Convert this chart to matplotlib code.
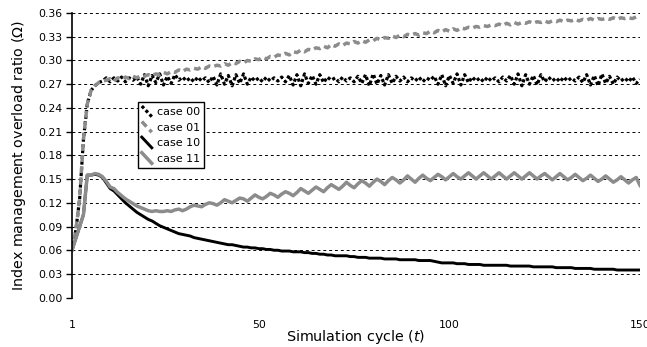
import numpy as np
import matplotlib
matplotlib.use("Agg")
import matplotlib.pyplot as plt
from matplotlib.legend_handler import HandlerLine2D
from matplotlib.lines import Line2D

cycles = np.arange(1, 151)

case_00 = [
    0.060, 0.085, 0.125, 0.200, 0.245, 0.262, 0.268, 0.272, 0.274, 0.278,
    0.273, 0.278, 0.274, 0.279, 0.273, 0.278, 0.275, 0.279, 0.270, 0.282,
    0.268, 0.281, 0.272, 0.283, 0.269, 0.280, 0.271, 0.282, 0.275, 0.279,
    0.274, 0.278, 0.273, 0.279, 0.274, 0.278, 0.272, 0.280, 0.269, 0.283,
    0.270, 0.281, 0.268, 0.282, 0.271, 0.283, 0.270, 0.279, 0.274, 0.278,
    0.273, 0.279, 0.274, 0.278, 0.274, 0.279, 0.273, 0.281, 0.269, 0.282,
    0.268, 0.283, 0.271, 0.281, 0.270, 0.282, 0.272, 0.279, 0.275, 0.278,
    0.273, 0.279, 0.274, 0.278, 0.273, 0.280, 0.271, 0.282, 0.268, 0.283,
    0.270, 0.281, 0.269, 0.282, 0.271, 0.280, 0.274, 0.279, 0.273, 0.278,
    0.274, 0.279, 0.273, 0.278, 0.275, 0.280, 0.270, 0.282, 0.268, 0.281,
    0.271, 0.283, 0.269, 0.282, 0.272, 0.279, 0.274, 0.278, 0.273, 0.279,
    0.274, 0.278, 0.273, 0.279, 0.274, 0.281, 0.270, 0.283, 0.268, 0.282,
    0.270, 0.281, 0.269, 0.282, 0.273, 0.279, 0.274, 0.278, 0.273, 0.279,
    0.274, 0.278, 0.274, 0.279, 0.272, 0.282, 0.269, 0.281, 0.268, 0.283,
    0.271, 0.280, 0.270, 0.279, 0.274, 0.278, 0.273, 0.279, 0.271, 0.276,
]

case_01 = [
    0.060, 0.085, 0.125, 0.200, 0.245, 0.262, 0.268, 0.272, 0.274, 0.275,
    0.277, 0.274, 0.278, 0.276, 0.279, 0.277, 0.280, 0.278, 0.281, 0.280,
    0.282, 0.281, 0.283, 0.282, 0.285, 0.283, 0.286, 0.285, 0.288, 0.286,
    0.289, 0.288, 0.290, 0.289, 0.292, 0.290, 0.293, 0.292, 0.294, 0.293,
    0.296, 0.294, 0.297, 0.296, 0.299, 0.297, 0.300, 0.299, 0.302, 0.301,
    0.304, 0.302, 0.305, 0.304, 0.307, 0.306, 0.309, 0.307, 0.311, 0.310,
    0.313, 0.311, 0.314, 0.313, 0.316, 0.315, 0.318, 0.316, 0.320, 0.318,
    0.321, 0.319, 0.322, 0.321, 0.324, 0.322, 0.325, 0.323, 0.326, 0.325,
    0.328, 0.326, 0.329, 0.328, 0.331, 0.329, 0.332, 0.330, 0.333, 0.332,
    0.334, 0.332, 0.335, 0.334, 0.337, 0.335, 0.338, 0.336, 0.339, 0.337,
    0.340, 0.338, 0.341, 0.340, 0.342, 0.341, 0.343, 0.342, 0.344, 0.343,
    0.345, 0.344, 0.346, 0.344, 0.347, 0.345, 0.348, 0.346, 0.348, 0.347,
    0.349, 0.347, 0.349, 0.348, 0.350, 0.348, 0.350, 0.349, 0.351, 0.349,
    0.351, 0.350, 0.352, 0.350, 0.352, 0.351, 0.353, 0.351, 0.353, 0.352,
    0.353, 0.352, 0.354, 0.352, 0.354, 0.353, 0.354, 0.353, 0.355, 0.354,
]

case_10 = [
    0.060, 0.075, 0.090, 0.105, 0.155, 0.155, 0.156, 0.155, 0.152, 0.145,
    0.138, 0.135, 0.130, 0.125, 0.120, 0.116, 0.112, 0.108, 0.105, 0.102,
    0.099, 0.097, 0.094, 0.091, 0.089, 0.087, 0.085, 0.083, 0.081, 0.080,
    0.079, 0.078, 0.076, 0.075, 0.074, 0.073, 0.072, 0.071, 0.070, 0.069,
    0.068, 0.067, 0.067, 0.066, 0.065, 0.064, 0.064, 0.063, 0.063, 0.062,
    0.062, 0.061, 0.061, 0.060, 0.060, 0.059, 0.059, 0.059, 0.058, 0.058,
    0.058, 0.057, 0.057, 0.056, 0.056, 0.055, 0.055, 0.054, 0.054, 0.053,
    0.053, 0.053, 0.053, 0.052, 0.052, 0.051, 0.051, 0.051, 0.050, 0.050,
    0.050, 0.050, 0.049, 0.049, 0.049, 0.049, 0.048, 0.048, 0.048, 0.048,
    0.048, 0.047, 0.047, 0.047, 0.047, 0.046, 0.045, 0.044, 0.044, 0.044,
    0.044, 0.043, 0.043, 0.043, 0.042, 0.042, 0.042, 0.042, 0.041, 0.041,
    0.041, 0.041, 0.041, 0.041, 0.041, 0.040, 0.040, 0.040, 0.040, 0.040,
    0.040, 0.039, 0.039, 0.039, 0.039, 0.039, 0.039, 0.038, 0.038, 0.038,
    0.038, 0.038, 0.037, 0.037, 0.037, 0.037, 0.037, 0.036, 0.036, 0.036,
    0.036, 0.036, 0.036, 0.035, 0.035, 0.035, 0.035, 0.035, 0.035, 0.035,
]

case_11 = [
    0.060, 0.075, 0.090, 0.105, 0.155, 0.155, 0.157, 0.156, 0.153, 0.147,
    0.140, 0.138, 0.133, 0.129, 0.125, 0.122, 0.119, 0.116, 0.114, 0.112,
    0.110, 0.109, 0.110, 0.109, 0.109, 0.110, 0.109, 0.111, 0.112, 0.110,
    0.112, 0.115, 0.117, 0.116, 0.115, 0.118, 0.120, 0.119, 0.117, 0.120,
    0.124, 0.122, 0.120, 0.123, 0.126, 0.125, 0.122, 0.126, 0.130, 0.127,
    0.125, 0.128, 0.132, 0.130, 0.127, 0.131, 0.134, 0.132, 0.129, 0.133,
    0.138, 0.135, 0.132, 0.136, 0.140, 0.137, 0.134, 0.139, 0.143, 0.140,
    0.137, 0.141, 0.146, 0.142, 0.139, 0.144, 0.148, 0.145, 0.141, 0.146,
    0.150, 0.147, 0.143, 0.148, 0.152, 0.149, 0.145, 0.149, 0.154, 0.150,
    0.146, 0.151, 0.155, 0.151, 0.148, 0.152, 0.156, 0.153, 0.149, 0.153,
    0.157, 0.153, 0.150, 0.154, 0.158, 0.154, 0.150, 0.154, 0.158, 0.154,
    0.150, 0.154, 0.158, 0.154, 0.150, 0.154, 0.158, 0.154, 0.150, 0.154,
    0.158, 0.154, 0.150, 0.154, 0.157, 0.153, 0.149, 0.153, 0.157, 0.153,
    0.149, 0.152, 0.156, 0.152, 0.148, 0.151, 0.155, 0.151, 0.147, 0.150,
    0.154, 0.150, 0.146, 0.149, 0.153, 0.149, 0.145, 0.149, 0.152, 0.142,
]

labels = ["case 00", "case 01", "case 10", "case 11"]
y_ticks = np.arange(0, 0.361, 0.03)
x_ticks = [1, 50, 100, 150]


class SlantHandler(HandlerLine2D):
    # legend sample drawn as a short diagonal stroke
    def create_artists(self, legend, orig_handle, xdescent, ydescent,
                       width, height, fontsize, trans):
        x0, y0 = -xdescent, -ydescent
        line = Line2D([x0, x0 + width], [y0 + height, y0])
        self.update_prop(line, orig_handle, legend)
        line.set_transform(trans)
        return [line]


plt.rcParams['font.family'] = ['DejaVu Sans']
fig = plt.figure(figsize=(6.47, 3.47), dpi=100)
ax = fig.add_axes([0.1113, 0.1421, 0.8779, 0.8204])

ax.plot(cycles, case_00, color='black', lw=2.3, dashes=(1.0, 0.8), label=labels[0])
ax.plot(cycles, case_01, color='#8c8c8c', lw=2.5, dashes=(2.0, 1.2), label=labels[1])
ax.plot(cycles, case_10, color='black', lw=2.1, label=labels[2])
ax.plot(cycles, case_11, color='#8c8c8c', lw=2.5, label=labels[3])

ax.set_xlim(1, 150)
ax.set_ylim(0, 0.36)
ax.set_yticks(y_ticks)
ax.set_yticklabels([f"{v:.2f}" for v in y_ticks])
ax.set_xticks(x_ticks)

ax.yaxis.grid(True, color='black', lw=0.7, linestyle=(0, (3, 3)))
ax.xaxis.grid(False)
ax.set_axisbelow(True)
for side in ['top', 'right', 'bottom']:
    ax.spines[side].set_visible(False)
ax.spines['left'].set_linewidth(1.2)
ax.tick_params(axis='y', length=4, width=1, labelsize=7.8, pad=3)
ax.tick_params(axis='x', length=0, labelsize=7.8, pad=16)

ax.set_ylabel('Index management overload ratio ($\\Omega$)', fontsize=10.3)
ax.set_xlabel('Simulation cycle ($t$)', fontsize=10.3)
ax.yaxis.set_label_coords(-0.077, 0.5)
ax.xaxis.set_label_coords(0.5, -0.108)

leg = ax.legend(loc='upper left', bbox_to_anchor=(0.116, 0.687), borderaxespad=0,
                fontsize=8, fancybox=False, framealpha=1, edgecolor='black',
                handlelength=0.9, handleheight=1.1, handletextpad=0.45,
                labelspacing=0.4, borderpad=0.35,
                handler_map={Line2D: SlantHandler()})
leg.get_frame().set_linewidth(1.0)

fig.savefig('out.png', dpi=100)
